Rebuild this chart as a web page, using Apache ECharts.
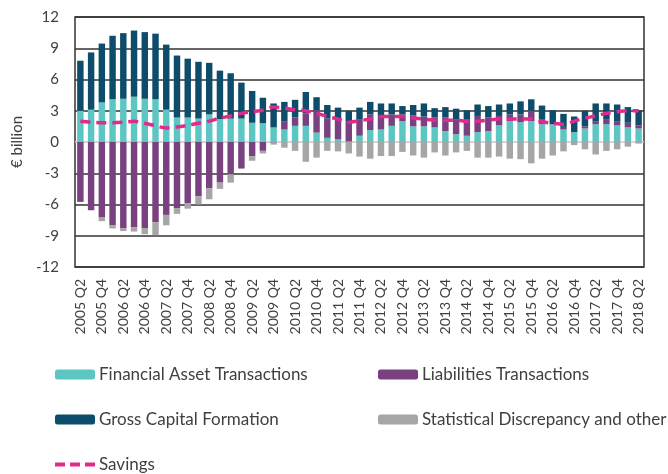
<!DOCTYPE html>
<html>
<head>
<meta charset="utf-8">
<script src="https://cdn.jsdelivr.net/npm/echarts@6/dist/echarts.min.js"></script>
<style>
  html, body { margin: 0; padding: 0; background: #fff; }
  #chart { width: 668px; height: 474px; }
</style>
</head>
<body>
<div id="chart"></div>
<script>
// quarters 2005 Q2 .. 2018 Q2
const quarters = [];
for (let y = 2005; y <= 2018; y++) {
  for (let q = 1; q <= 4; q++) {
    if ((y === 2005 && q < 2) || (y === 2018 && q > 2)) continue;
    quarters.push(y + " Q" + q);
  }
}

const financialAssets = [
  3.0, 3.1, 3.8, 4.1, 4.15, 4.35, 4.15, 4.1, 3.1, 2.35, 2.35, 2.25, 2.65, 2.2,
  2.25, 2.25, 1.85, 1.8, 1.4, 1.2, 1.55, 1.55, 0.9, 0.4, 0.25, 0.05, 0.6, 1.15,
  1.2, 1.55, 2.0, 1.5, 1.5, 1.4, 1.05, 0.75, 0.6, 0.95, 1.05, 1.6, 2.0, 1.9,
  2.0, 1.7, 1.7, 1.2, 0.95, 1.3, 1.7, 1.7, 1.6, 1.4, 1.3
];
const liabilities = [
  -5.75, -6.55, -7.25, -8.0, -8.3, -8.2, -8.3, -7.7, -7.0, -6.35, -5.9, -5.2, -4.45, -3.9,
  -3.1, -2.55, -1.35, -0.85, -0.05, 0.8, 0.8, 1.2, 2.15, 1.85, 1.9, 1.95, 1.6, 1.5,
  1.3, 1.1, 0.65, 1.05, 0.95, 0.95, 1.3, 1.45, 1.6, 1.55, 1.3, 0.9, 0.65, 0.75,
  1.0, 0.5, 0.0, 0.25, 0.0, 0.2, 0.3, 0.5, 0.4, 0.45, 0.3
];
const grossCapital = [
  4.8, 5.5, 5.65, 6.1, 6.3, 6.35, 6.4, 6.3, 6.25, 5.95, 5.65, 5.45, 4.95, 4.65,
  4.35, 3.45, 3.05, 2.45, 2.3, 1.85, 1.7, 2.05, 1.25, 1.3, 1.15, 1.0, 1.1, 1.2,
  1.2, 1.05, 0.8, 1.0, 1.25, 0.9, 1.0, 1.0, 0.85, 1.1, 1.1, 1.1, 1.05, 1.25,
  1.1, 1.3, 1.35, 1.25, 1.5, 1.5, 1.7, 1.5, 1.6, 1.5, 1.45
];
const discrepancy = [
  0, 0, -0.35, -0.3, -0.25, -0.4, -0.55, -1.25, -1.0, -0.55, -0.5, -0.8, -1.05, -0.6,
  -0.8, 0, -0.45, -0.25, -0.2, -0.55, -0.85, -1.9, -1.5, -0.85, -0.9, -1.1, -1.4, -1.6,
  -1.35, -1.35, -0.95, -1.3, -1.5, -1.0, -1.3, -1.0, -0.85, -1.5, -1.5, -1.4, -1.6, -1.65,
  -2.05, -1.6, -1.3, -0.9, -0.3, -0.7, -1.2, -0.85, -0.7, -0.45, -0.15
];
const savings = [
  2.0, 1.9, 1.85, 1.85, 1.9, 2.0, 1.8, 1.55, 1.35, 1.45, 1.6, 1.8, 2.0, 2.3,
  2.5, 2.75, 2.9, 3.05, 3.35, 3.25, 3.1, 3.0, 2.75, 2.45, 2.2, 1.9, 2.05, 2.2,
  2.45, 2.45, 2.45, 2.3, 2.2, 2.1, 2.1, 2.1, 2.0, 2.0, 2.1, 2.2, 2.2, 2.2,
  2.2, 1.95, 1.8, 1.7, 2.0, 2.3, 2.5, 2.75, 2.9, 3.0, 3.0
];

const FONT = "Lato";
const chart = echarts.init(document.getElementById("chart"));

const dashIcon = "path://M0,0h10v4h-10z M15,0h10v4h-10z M30,0h10v4h-10z";

function legendAt(name, left, top, icon) {
  return {
    data: [icon ? { name: name, icon: icon } : name],
    left: left,
    top: top,
    itemWidth: 40,
    itemHeight: icon ? 4 : 10,
    textStyle: { fontFamily: FONT, fontSize: 17, color: "#404040", padding: [0, 0, 0, -1] },
    selectedMode: false
  };
}

const barCommon = {
  type: "bar",
  stack: "total",
  barWidth: "60%",
  emphasis: { disabled: true }
};

const option = {
  animation: false,
  textStyle: { fontFamily: FONT },
  grid: {
    left: 75,
    right: 24,
    top: 17,
    bottom: 207,
    show: true,
    borderColor: "#333",
    borderWidth: 1.5
  },
  legend: [
    legendAt("Financial Asset Transactions", 50, 361),
    legendAt("Liabilities Transactions", 373, 361),
    legendAt("Gross Capital Formation", 50, 406),
    legendAt("Statistical Discrepancy and other", 373, 406),
    legendAt("Savings", 50, 451, dashIcon)
  ],
  xAxis: {
    type: "category",
    data: quarters,
    axisLine: { show: false, onZero: false },
    axisTick: { show: false },
    axisLabel: {
      interval: 1,
      rotate: 90,
      fontSize: 14,
      color: "#404040",
      margin: 12,
      fontFamily: FONT
    }
  },
  yAxis: {
    type: "value",
    min: -12,
    max: 12,
    interval: 3,
    name: "€ billion",
    nameLocation: "middle",
    nameRotate: 90,
    nameGap: 50,
    nameTextStyle: { fontFamily: FONT, fontSize: 15, color: "#404040" },
    axisLine: { show: false },
    axisTick: { show: false },
    axisLabel: { fontSize: 15, color: "#404040", margin: 16, fontFamily: FONT },
    splitLine: {
      lineStyle: {
        width: 1.5,
        color: ["#333", "#333", "#333", "#333", "#c8c8c8", "#333", "#333", "#333", "#333"]
      }
    }
  },
  series: [
    Object.assign({}, barCommon, {
      name: "Financial Asset Transactions",
      data: financialAssets,
      itemStyle: { color: "#5cc6c3" }
    }),
    Object.assign({}, barCommon, {
      name: "Liabilities Transactions",
      data: liabilities,
      itemStyle: { color: "#7a4180" }
    }),
    Object.assign({}, barCommon, {
      name: "Gross Capital Formation",
      data: grossCapital,
      itemStyle: { color: "#0d4d6b" }
    }),
    Object.assign({}, barCommon, {
      name: "Statistical Discrepancy and other",
      data: discrepancy,
      itemStyle: { color: "#a6a6a6" }
    }),
    {
      name: "Savings",
      type: "line",
      data: savings,
      smooth: 0.3,
      symbol: "none",
      z: 5,
      itemStyle: { color: "#e02a8c" },
      lineStyle: { color: "#e02a8c", width: 3.5, type: [10, 6] }
    }
  ]
};

chart.setOption(option);
</script>
</body>
</html>
